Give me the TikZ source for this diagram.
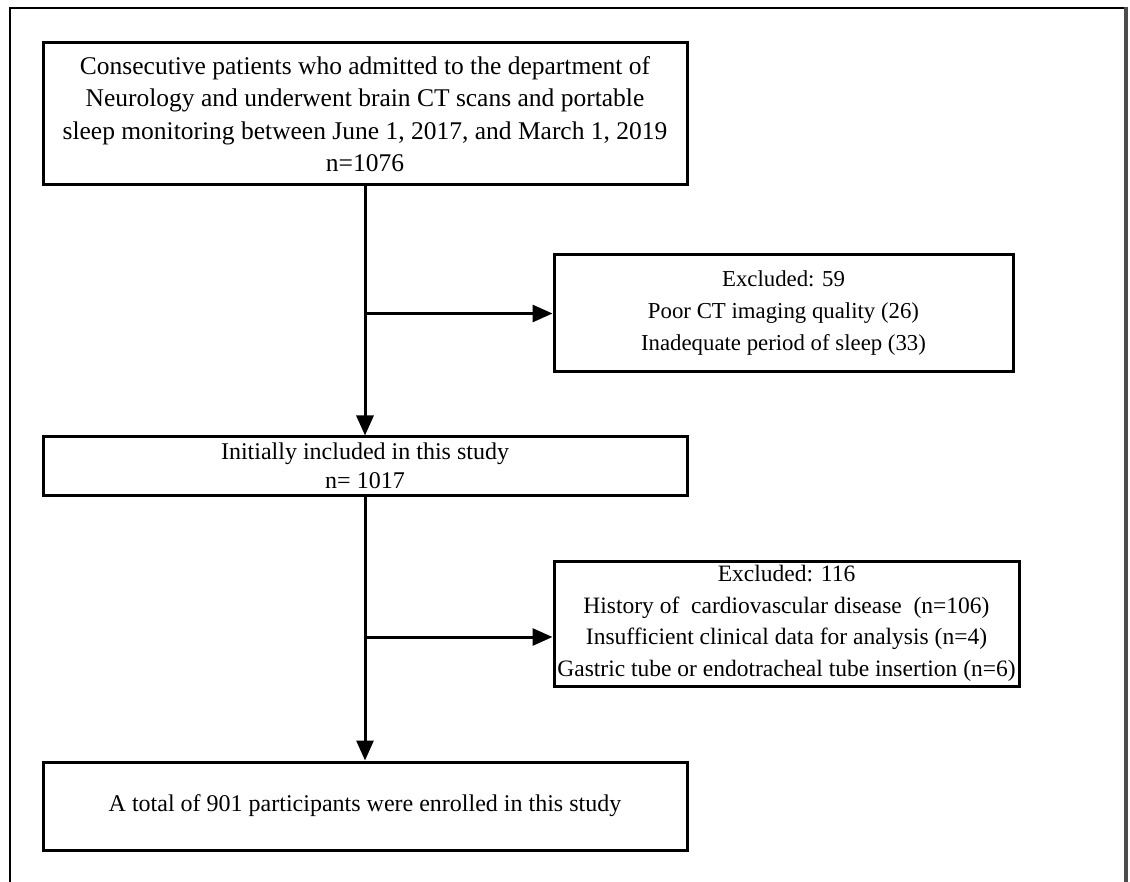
\documentclass[tikz,border=0pt]{standalone}
\usepackage{fontspec}
\setmainfont{Liberation Serif}
\usetikzlibrary{arrows.meta}

\tikzset{
  flowbox/.style={draw, line width=3pt, align=center, inner sep=0pt,
    font=\fontsize{24}{32}\selectfont},
  flowarrow/.style={line width=3pt, -{Triangle[length=20pt,width=17pt]}}
}

\begin{document}
\begin{tikzpicture}[x=1pt,y=-1pt]
\useasboundingbox (0,0) rectangle (1130,882);
% outer frame
\draw[line width=2pt] (10,882) -- (10,8) -- (1126,8);
\draw[line width=4pt,black!70] (1126,7) -- (1126,882);

% boxes
\node[flowbox, minimum width=644pt, minimum height=142pt,
  font=\fontsize{25.5}{32.5}\selectfont] (patients) at (365,114)
  {Consecutive patients who admitted to the department of\\
   Neurology and underwent brain CT scans and portable\\
   sleep monitoring between June 1, 2017, and March 1, 2019\\
   n=1076};
\node[flowbox, minimum width=459pt, minimum height=117pt,
  font=\fontsize{22.8}{32}\selectfont] (excluded1) at (783.5,313.5)
  {Excluded: 59\\ Poor CT imaging quality (26)\\ Inadequate period of sleep (33)};
\node[flowbox, minimum width=644pt, minimum height=58pt,
  font=\fontsize{24}{29}\selectfont] (included) at (365,466)
  {Initially included in this study\\ n= 1017};
\node[flowbox, minimum width=465pt, minimum height=125pt,
  font=\fontsize{23.5}{31.5}\selectfont] (excluded2) at (786.5,623.5)
  {Excluded: 116\\ History of~ cardiovascular disease~ (n=106)\\
   Insufficient clinical data for analysis (n=4)\\
   Gastric tube or endotracheal tube insertion (n=6)};
\node[flowbox, minimum width=644pt, minimum height=88pt] (enrolled) at (365,806)
  {A total of 901 participants were enrolled in this study};

% connectors
\coordinate (split1) at (patients.south |- excluded1.west);
\coordinate (split2) at ([yshift=-13.5pt]patients.south |- excluded2.west);
\draw[flowarrow] (patients.south) -- (included.north);
\draw[flowarrow] (split1) -- (excluded1.west);
\draw[flowarrow] (included.south) -- (enrolled.north);
\draw[flowarrow] (split2) -- (split2 -| excluded2.west);
\end{tikzpicture}
\end{document}
